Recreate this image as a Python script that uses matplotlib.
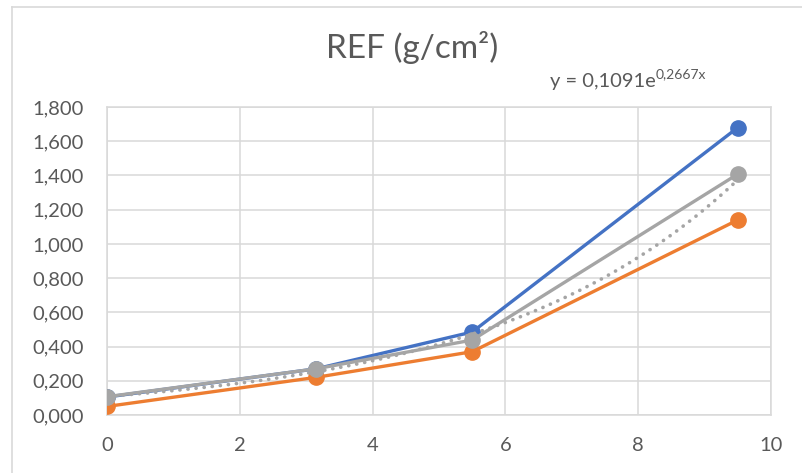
import numpy as np
import matplotlib
matplotlib.use("Agg")
import matplotlib.pyplot as plt
from matplotlib.lines import Line2D
from matplotlib.ticker import FuncFormatter

# ---- data ----
x_vals = [0, 3.15, 5.5, 9.5]
series_blue = [0.105, 0.270, 0.485, 1.680]
series_orange = [0.050, 0.220, 0.370, 1.140]
series_gray = [0.107, 0.270, 0.438, 1.408]
trend_a = 0.1091
trend_b = 0.2667
title = "REF (g/cm²)"
eq_main = "y = 0,1091e"
eq_sup = "0,2667x"
y_ticks = [0.0, 0.2, 0.4, 0.6, 0.8, 1.0, 1.2, 1.4, 1.6, 1.8]
x_ticks = [0, 2, 4, 6, 8, 10]

plt.rcParams['font.family'] = ['Lato', 'DejaVu Sans']
txt_col = '#595959'
grid_col = '#D9D9D9'

fig = plt.figure(figsize=(8.02, 4.73), dpi=100)
ax = fig.add_axes([107/802, 1 - 415/473, (771 - 107)/802, (415 - 107)/473])

ax.set_xlim(0, 10)
ax.set_ylim(0, 1.8)
ax.set_xticks(x_ticks)
ax.set_yticks(y_ticks)
ax.yaxis.set_major_formatter(FuncFormatter(lambda v, p: f"{v:.3f}".replace('.', ',')))
ax.xaxis.set_major_formatter(FuncFormatter(lambda v, p: f"{v:g}"))
ax.grid(True, color=grid_col, linewidth=1.1)
ax.set_axisbelow(True)
for s in ax.spines.values():
    s.set_color(grid_col)
    s.set_linewidth(1.1)
ax.tick_params(length=0, labelsize=14.5, colors=txt_col)
ax.tick_params(axis='y', pad=17)
ax.tick_params(axis='x', pad=16)

lw = 2.4
ms = 11
ax.plot(x_vals, series_blue, color='#4472C4', lw=lw, marker='o', ms=ms, zorder=3)
ax.plot(x_vals, series_orange, color='#ED7D31', lw=lw, marker='o', ms=ms, zorder=3)
xt = np.linspace(x_vals[0], x_vals[-1], 200)
ax.plot(xt, trend_a * np.exp(trend_b * xt), color='#A5A5A5', lw=2.6,
        linestyle=(0, (0.05, 2.2)), dash_capstyle='round', zorder=3.5)
ax.plot(x_vals, series_gray, color='#A5A5A5', lw=lw, marker='o', ms=ms, zorder=4)

fig.text(412/802, 1 - 47/473, title, ha='center', va='center', fontsize=24, color=txt_col)
t1 = fig.text(550/802, 1 - 87/473, eq_main, ha='left', va='baseline', fontsize=14.5, color=txt_col)
ax.annotate(eq_sup, xy=(1.0, 0.6), xycoords=t1, ha='left', va='bottom',
            fontsize=10, color=txt_col, annotation_clip=False)

# chart border
fig.add_artist(Line2D([12/802, 12/802], [0, 1 - 7/473], transform=fig.transFigure,
                      color=grid_col, lw=1.2))
fig.add_artist(Line2D([12/802, 1], [1 - 7/473, 1 - 7/473], transform=fig.transFigure,
                      color=grid_col, lw=1.2))

fig.savefig("out.png", dpi=100)
